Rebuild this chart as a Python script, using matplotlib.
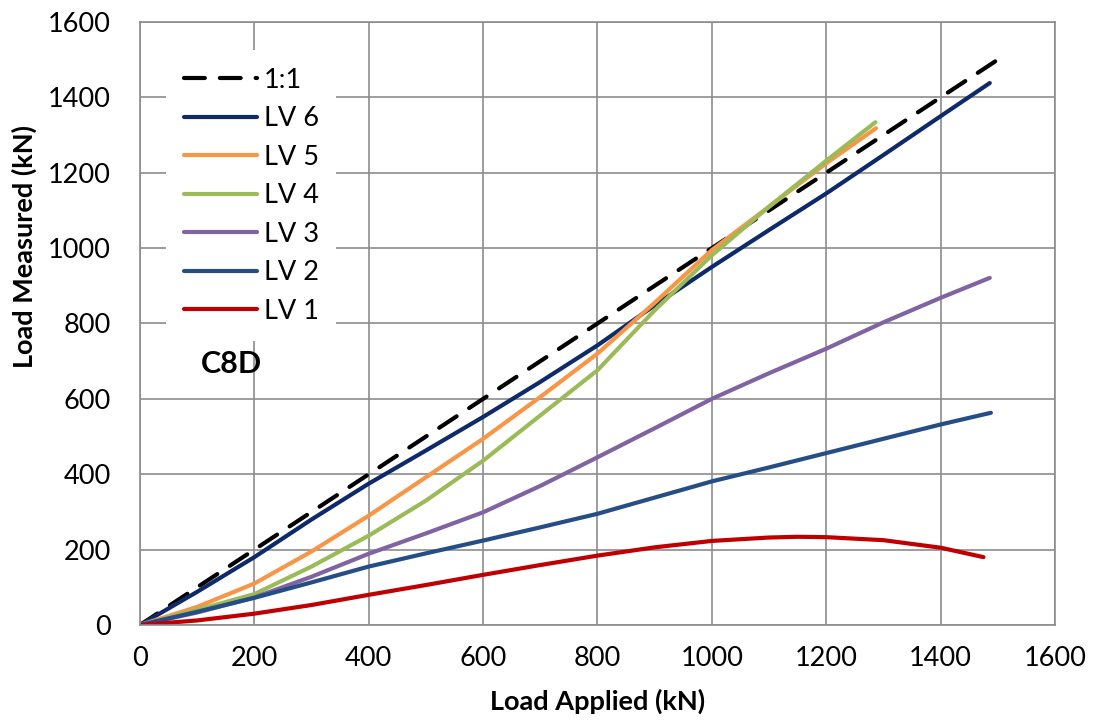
import matplotlib
matplotlib.use("Agg")
import matplotlib.pyplot as plt

plt.rcParams['font.family'] = ['Lato', 'DejaVu Sans']

# load applied (kN) for each series
x_one = [0, 1500]
y_one = [0, 1500]

x_lv6 = [0, 100, 200, 300, 400, 500, 600, 700, 800, 900, 1000, 1100, 1200, 1300, 1400, 1486]
y_lv6 = [0, 88, 180, 280, 375, 463, 552, 645, 742, 848, 950, 1048, 1145, 1247, 1350, 1438]

x_lv5 = [0, 100, 200, 300, 400, 500, 600, 700, 800, 900, 1000, 1100, 1200, 1287]
y_lv5 = [0, 48, 110, 195, 290, 392, 494, 605, 720, 855, 995, 1110, 1225, 1318]

x_lv4 = [0, 100, 200, 300, 400, 500, 600, 700, 800, 900, 1000, 1100, 1200, 1286]
y_lv4 = [0, 40, 82, 155, 237, 330, 436, 556, 676, 835, 981, 1110, 1232, 1334]

x_lv3 = [0, 100, 200, 300, 400, 500, 600, 700, 800, 900, 1000, 1100, 1200, 1300, 1400, 1486]
y_lv3 = [0, 33, 73, 128, 189, 243, 299, 369, 445, 522, 600, 668, 733, 803, 868, 921]

x_lv2 = [0, 100, 200, 300, 400, 500, 600, 700, 800, 900, 1000, 1100, 1200, 1300, 1400, 1488]
y_lv2 = [0, 35, 72, 113, 155, 190, 224, 259, 295, 338, 381, 418, 456, 494, 532, 563]

x_lv1 = [0, 100, 200, 300, 400, 500, 600, 700, 800, 900, 1000, 1100, 1150, 1200, 1300, 1400, 1475]
y_lv1 = [0, 12, 30, 53, 80, 106, 133, 159, 184, 206, 223, 232, 234, 233, 225, 205, 180]

ticks = [0, 200, 400, 600, 800, 1000, 1200, 1400, 1600]

fig = plt.figure(figsize=(10.94, 7.21), dpi=100)
ax = fig.add_axes([0.128, 0.1332, 0.8363, 0.8363])

lw = 3.0
ax.plot(x_one, y_one, color='black', lw=lw, ls=(0, (5, 3.6)), dash_capstyle='round', label='1:1')
ax.plot(x_lv6, y_lv6, color='#0E2A68', lw=lw, solid_capstyle='round', label='LV 6')
ax.plot(x_lv5, y_lv5, color='#F79646', lw=lw, solid_capstyle='round', label='LV 5')
ax.plot(x_lv4, y_lv4, color='#9BBB59', lw=lw, solid_capstyle='round', label='LV 4')
ax.plot(x_lv3, y_lv3, color='#8064A2', lw=lw, solid_capstyle='round', label='LV 3')
ax.plot(x_lv2, y_lv2, color='#254E86', lw=lw, solid_capstyle='round', label='LV 2')
ax.plot(x_lv1, y_lv1, color='#C00000', lw=lw, solid_capstyle='round', label='LV 1')

ax.set_xlim(0, 1600)
ax.set_ylim(0, 1600)
ax.set_xticks(ticks)
ax.set_yticks(ticks)
ax.tick_params(axis='both', length=0, labelsize=19.5)
ax.tick_params(axis='y', pad=21)
ax.tick_params(axis='x', pad=15)
ax.grid(True, color='#8C8C8C', lw=1.2)
ax.set_axisbelow(True)
for s in ax.spines.values():
    s.set_color('#8C8C8C')
    s.set_linewidth(1.2)

ax.set_xlabel('Load Applied (kN)', fontsize=19.5, fontweight='bold')
ax.set_ylabel('Load Measured (kN)', fontsize=19.5, fontweight='bold')
ax.xaxis.set_label_coords(0.5, -0.105)
ax.yaxis.set_label_coords(-0.113, 0.627)

leg = ax.legend(loc='upper left', bbox_to_anchor=(0.0284, 0.9536), fontsize=19.5,
                handlelength=2.7, labelspacing=0.5, frameon=True, fancybox=False,
                borderpad=0.65, handletextpad=0.25, borderaxespad=0)
leg.get_frame().set_facecolor('white')
leg.get_frame().set_edgecolor('none')
leg.get_frame().set_alpha(1)

ax.text(159, 692, 'C8D', fontsize=22, fontweight='bold', ha='center', va='center')

fig.savefig('out.png', dpi=100)
